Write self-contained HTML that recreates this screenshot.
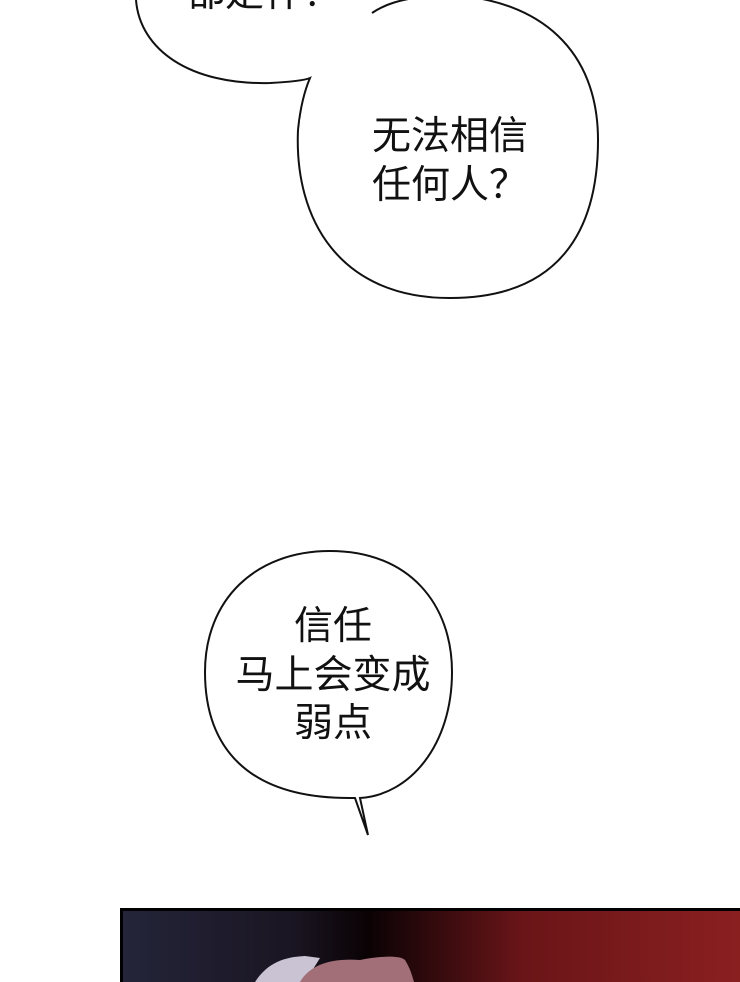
<!DOCTYPE html>
<html><head><meta charset="utf-8"><style>
html,body{margin:0;padding:0;background:#fff;width:740px;height:982px;overflow:hidden}
svg{display:block}
text{font-family:"Liberation Sans","Noto Sans CJK SC",sans-serif;font-size:39px;fill:#111;text-anchor:middle}
</style></head><body>
<svg width="740" height="982" viewBox="0 0 740 982">
<defs>
<linearGradient id="g" x1="0" x2="1" y1="0" y2="0">
<stop offset="0" stop-color="#24253a"/>
<stop offset="0.28" stop-color="#1a1522"/>
<stop offset="0.4" stop-color="#0a0204"/>
<stop offset="0.65" stop-color="#6a1518"/>
<stop offset="1" stop-color="#8a1f20"/>
</linearGradient>
</defs>
<path d="M136,0 C140,50 190,85 270,83 C290,82 305,80 310,78 C304,92 300,110 298,130" fill="#fff" stroke="#111" stroke-width="2"/>
<path d="M300,120 C300,140 298,160 300,180 C310,260 360,296 450,296 C560,296 596,230 596,140 C596,50 540,2 450,-3 L380,0 Z" fill="#fff" stroke="none"/>
<path d="M298,130 C294,220 340,298 450,298 C560,298 598,230 598,140 C598,50 540,0 450,-5" fill="none" stroke="#111" stroke-width="2"/>
<path d="M372,13 C385,4 400,0 420,-3" fill="none" stroke="#111" stroke-width="2"/>
<text x="186" y="6" style="text-anchor:start">都是什？</text>
<text x="450" y="149">无法相信</text>
<text x="450" y="198">任何人？</text>
<path d="M205,672 C205,600 255,551 330,551 C410,551 452,605 452,672 C452,745 410,795 360,798 L368,835 L355,798 C245,800 205,745 205,672 Z" fill="#fff" stroke="#111" stroke-width="2"/>
<text x="333" y="639">信任</text>
<text x="333" y="688">马上会变成</text>
<text x="333" y="736">弱点</text>
<rect x="120" y="908" width="620" height="74" fill="url(#g)"/>
<rect x="120" y="908" width="620" height="3" fill="#000"/>
<rect x="120" y="908" width="3" height="74" fill="#000"/>
<path d="M255,982 C268,962 285,957 305,956 L320,958 L305,982 Z" fill="#c9c3d3"/>
<path d="M300,982 C310,965 330,958 360,960 C380,956 400,955 405,960 C410,968 412,975 414,982 Z" fill="#a26f78"/>
</svg>
</body></html>
